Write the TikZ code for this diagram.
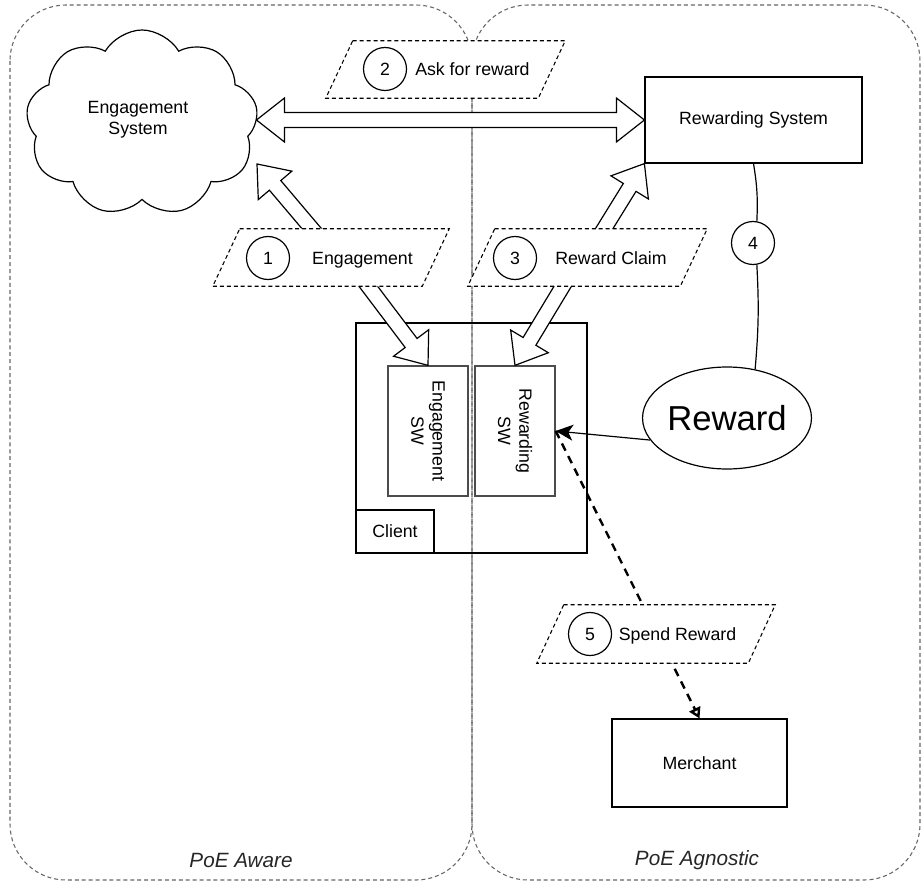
\documentclass[tikz,border=0pt]{standalone}
\usepackage{fontspec}
\setmainfont{Liberation Sans}
\usetikzlibrary{calc,shapes.geometric,shapes.symbols,arrows.meta}

\newcommand{\hollowarrow}[2]{%
  \coordinate (hbA) at ($(#2)!21pt!(#1)$);
  \filldraw[flexline] ($(#1)!5.6pt!90:(#2)$) -- ($(hbA)!5.6pt!90:(#2)$) -- ($(hbA)!16.5pt!90:(#2)$) -- (#2) -- ($(hbA)!16.5pt!-90:(#2)$) -- ($(hbA)!5.6pt!-90:(#2)$) -- ($(#1)!5.6pt!-90:(#2)$) -- cycle;}

\newcommand{\hollowdouble}[2]{%
  \coordinate (hbB) at ($(#2)!21pt!(#1)$);
  \coordinate (hbC) at ($(#1)!21pt!(#2)$);
  \filldraw[flexline] (#1) -- ($(hbC)!16.5pt!90:(#2)$) -- ($(hbC)!5.6pt!90:(#2)$) -- ($(hbB)!5.6pt!90:(#2)$) -- ($(hbB)!16.5pt!90:(#2)$) -- (#2) -- ($(hbB)!16.5pt!-90:(#2)$) -- ($(hbB)!5.6pt!-90:(#2)$) -- ($(hbC)!5.6pt!-90:(#2)$) -- ($(hbC)!16.5pt!-90:(#2)$) -- cycle;}

\newcommand{\paraoutline}[1]{%
  \filldraw[paraline] ($(#1.north west)+(27,0)$) -- (#1.north east) -- ($(#1.south east)+(-27,0)$) -- (#1.south west) -- cycle;}

\tikzset{
  txt/.style={font=\fontsize{13.3}{16}\selectfont, text=black},
  boxnode/.style={draw, line width=0.9pt, rectangle, fill=white, inner sep=0pt, txt},
  swbox/.style={draw=black!70, line width=1pt, rectangle, fill=white, inner sep=0pt, minimum width=60pt, minimum height=97.5pt},
  zonerect/.style={draw=black!60, line width=0.8pt, dash pattern=on 3pt off 2.2pt, rounded corners=42pt},
  zonelabel/.style={font=\fontsize{15.5}{18}\selectfont\itshape, text=black!85, inner sep=0pt},
  paranode/.style={rectangle, inner sep=0pt},
  paraline/.style={draw=black, fill=white, line width=0.8pt, dash pattern=on 3pt off 2.2pt},
  numcirc/.style={circle, draw, line width=0.9pt, fill=white, minimum size=32.25pt, inner sep=0pt, txt},
  flexline/.style={draw=black, fill=white, line width=0.9pt, line join=miter},
  spendline/.style={line width=1.8pt, dash pattern=on 6pt off 4.5pt, -{Triangle[open,length=8pt,width=9pt]}},
  thinarrow/.style={line width=0.9pt, -{Stealth[length=13pt,width=12pt,inset=3.5pt]}},
  conn/.style={line width=0.9pt}
}

\begin{document}
\begin{tikzpicture}[x=0.75pt,y=-0.75pt]
\useasboundingbox (0,0) rectangle (923,884);

% zones
\draw[zonerect] (10,5) rectangle (472,880);
\draw[zonerect] (472,5) rectangle (920,880);
\node[zonelabel] (aware) at (241,860) {PoE Aware};
\node[zonelabel] (agn) at (697,860) {PoE Agnostic};

% main nodes
\node[cloud, cloud puffs=9, cloud puff arc=120, shape border rotate=20, draw, line width=0.9pt, fill=white,
      minimum width=174pt, minimum height=139.5pt, inner sep=0pt, align=center, txt] (es) at (142,123) {};
\node[txt, align=center, inner sep=0pt] (est) at (138,120) {Engagement\\System};
\node[boxnode, minimum width=162.75pt, minimum height=64.5pt] (rs) at (753.5,120) {Rewarding System};
\node[draw, line width=0.9pt, rectangle, inner sep=0pt, minimum width=173.25pt, minimum height=172.5pt] (client) at (471.5,438) {};
\node[boxnode, minimum width=58.5pt, minimum height=32.25pt] (clbl) at (395,531.5) {Client};
\node[swbox] (esw) at (428,431) {};
\node[rotate=-90, align=center, txt, inner sep=0pt] (eswt) at (esw.center) {Engagement\\SW};
\node[swbox] (rsw) at (515,431) {};
\node[rotate=-90, align=center, txt, inner sep=0pt] (rswt) at (rsw.center) {Rewarding\\SW};
\node[ellipse, draw, line width=0.9pt, fill=white, inner sep=0pt, minimum width=124.5pt, minimum height=76.5pt,
      font=\fontsize{26}{30}\selectfont] (rew) at (727,418) {Reward};
\node[boxnode, minimum width=131.25pt, minimum height=66pt] (mer) at (699.5,763) {Merchant};

% spend (dashed) connector
\draw[spendline] (rsw.east) -- (mer.north);

% label parallelogram anchors (invisible frames)
\node[paranode, minimum width=179.25pt, minimum height=42.75pt] (p2) at (445.5,69.5) {};
\node[paranode, minimum width=177pt, minimum height=42.75pt] (p1) at (331,257.5) {};
\node[paranode, minimum width=179.25pt, minimum height=42.75pt] (p3) at (587.5,257.5) {};
\node[paranode, minimum width=178.5pt, minimum height=43.5pt] (p5) at (656,634) {};

% hollow arrows
\coordinate (esE) at (es.east |- rs.west);
\coordinate (esS) at (257,164);
\hollowdouble{esE}{rs.west}
\coordinate (p1a) at ($(p1.center)+(-9.3,-17.1)$);
\hollowarrow{p1a}{esS}
\coordinate (p1b) at ($(p1.center)+(28,16.5)$);
\hollowarrow{p1b}{esw.north}
\coordinate (p3a) at ($(p3.center)+(8.6,-15.8)$);
\hollowarrow{p3a}{rs.south west}
\coordinate (p3b) at ($(p3.center)+(-16.8,15.6)$);
\hollowarrow{p3b}{rsw.north}

% parallelogram outlines and texts
\paraoutline{p2}
\paraoutline{p1}
\paraoutline{p3}
\paraoutline{p5}
\node[numcirc] (n2) at (385,69) {2};
\node[txt, anchor=west, inner sep=0pt] (t2) at (415,69) {Ask for reward};
\node[numcirc] (n1) at (268,258) {1};
\node[txt, inner sep=0pt, text height=9.6pt, text depth=0pt] (t1) at (362.5,258) {Engagement};
\node[numcirc] (n3) at (515,258) {3};
\node[txt, inner sep=0pt, text height=9.6pt, text depth=0pt] (t3) at (611,258) {Reward Claim};
\node[numcirc] (n5) at (590,634) {5};
\node[txt, inner sep=0pt, text height=9.6pt, text depth=0pt] (t5) at (677.5,634) {Spend Reward};

% step 4 line
\node[numcirc] (n4) at (753,243) {4};
\draw[conn] (rs.south) to[bend left=6] (n4.80);
\draw[conn] (n4.-80) to[bend left=4] (rew.60);

% reward to rewarding SW
\draw[thinarrow] (rew.196) -- (rsw.east);
\end{tikzpicture}
\end{document}
